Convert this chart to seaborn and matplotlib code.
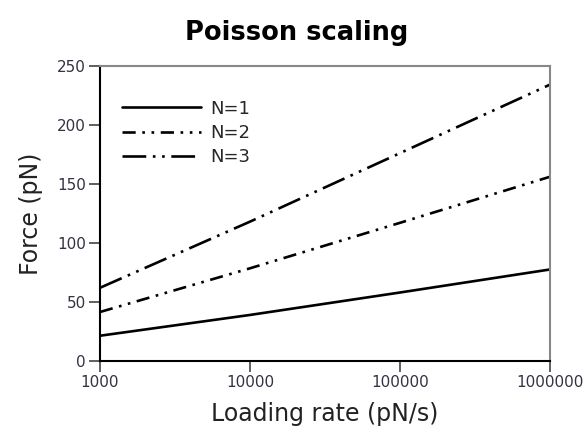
import matplotlib
matplotlib.use("Agg")
import matplotlib.pyplot as plt
import seaborn as sns
import pandas as pd
from matplotlib.ticker import FixedLocator, FixedFormatter, NullLocator

loading_rate = [1000, 10000, 100000, 1000000]
force_n1 = [21.4, 39.0, 58.0, 77.5]
force_n2 = [41.5, 78.5, 117.0, 156.0]
force_n3 = [62.0, 118.0, 176.0, 234.0]
series_names = ["N=1", "N=2", "N=3"]
x_ticks = [1000, 10000, 100000, 1000000]
x_tick_labels = ["1000", "10000", "100000", "1000000"]
y_ticks = [0, 50, 100, 150, 200, 250]

rows = []
for name, vals in zip(series_names, [force_n1, force_n2, force_n3]):
    for x, y in zip(loading_rate, vals):
        rows.append({"rate": x, "force": y, "series": name})
df = pd.DataFrame(rows)

sns.set_style("white")
plt.rcParams["font.family"] = ["DejaVu Sans"]

fig = plt.figure(figsize=(5.88, 4.36), dpi=100)
ax = fig.add_axes([0.170, 0.172, 0.765, 0.677])

dashes = {"N=1": "", "N=2": (5, 2.5, 1, 2.5, 1, 2.5), "N=3": (9, 2.5, 1, 2.5, 1, 2.5)}
sns.lineplot(data=df, x="rate", y="force", hue="series", style="series",
             palette=["black"] * 3, dashes=dashes, linewidth=1.9, ax=ax)

ax.set_xscale("log")
ax.set_xlim(1000, 1000000)
ax.set_ylim(0, 250)
ax.xaxis.set_major_locator(FixedLocator(x_ticks))
ax.xaxis.set_major_formatter(FixedFormatter(x_tick_labels))
ax.xaxis.set_minor_locator(NullLocator())
ax.set_yticks(y_ticks)

for s in ["left", "bottom"]:
    ax.spines[s].set_color("black")
    ax.spines[s].set_linewidth(1.5)
for s in ["top", "right"]:
    ax.spines[s].set_color("#888888")
    ax.spines[s].set_linewidth(1.5)

ax.tick_params(axis="both", which="major", direction="out", length=8, width=1.2,
               color="#444444", labelsize=11, labelcolor="#333344", bottom=True, left=True, pad=2)

ax.set_xlabel("Loading rate (pN/s)", fontsize=17, color="#222222", labelpad=9)
ax.set_ylabel("Force (pN)", fontsize=17, color="#222222", labelpad=10)
fig.suptitle("Poisson scaling", x=0.505, y=0.955, fontsize=18.5, fontweight="bold", color="black")

leg = ax.legend(loc="upper left", bbox_to_anchor=(0.012, 0.94), frameon=False,
                fontsize=13, handlelength=4.4, handletextpad=0.5, labelspacing=0.35, title=None)
for h in leg.get_lines():
    h.set_linewidth(1.9)

fig.savefig("out.png", dpi=100)
